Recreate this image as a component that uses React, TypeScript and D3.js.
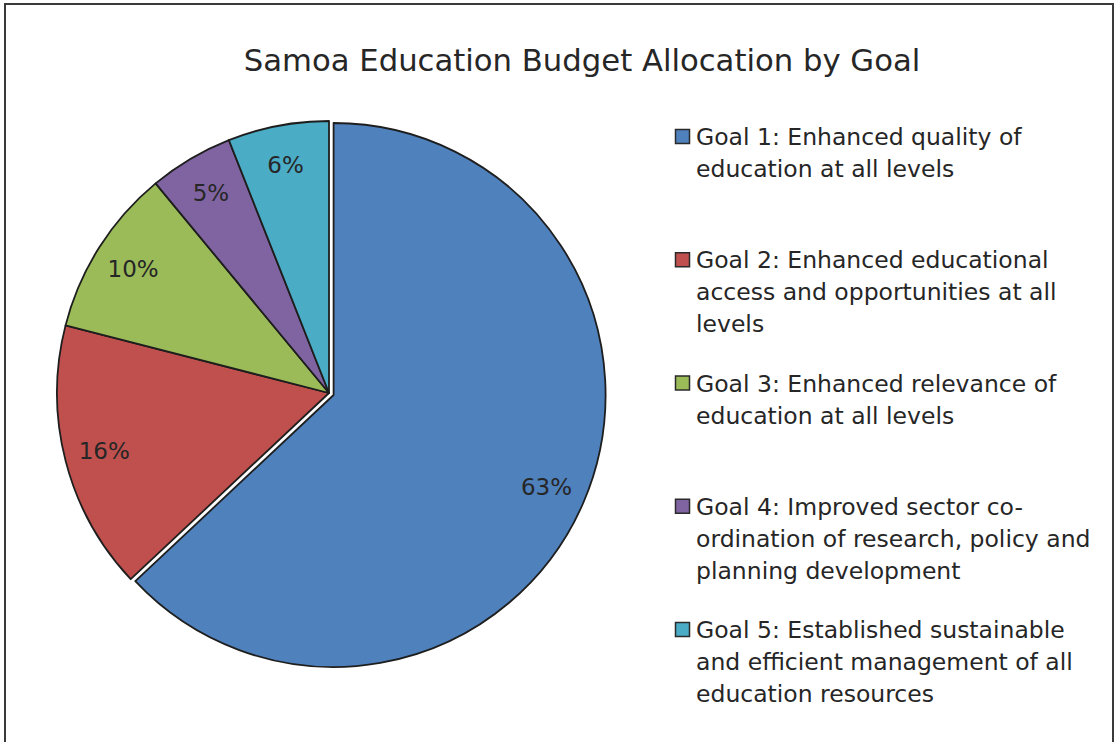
import { useEffect, useRef } from "react";
import * as d3 from "d3";

const goalNames = ["Goal 1", "Goal 2", "Goal 3", "Goal 4", "Goal 5"];
const budgetShares = [63, 16, 10, 5, 6];
const legendLines = [
  ["Goal 1: Enhanced quality of", "education at all levels"],
  ["Goal 2: Enhanced educational", "access and opportunities at all", "levels"],
  ["Goal 3: Enhanced relevance of", "education at all levels"],
  ["Goal 4: Improved sector co-", "ordination of research, policy and", "planning development"],
  ["Goal 5: Established sustainable", "and efficient management of all", "education resources"],
];
const sliceColors = ["#4F81BD", "#C0504D", "#9BBB59", "#8064A2", "#4BACC6"];

const FONT = "'DejaVu Sans', sans-serif";

export default function App() {
  const svgRef = useRef<SVGSVGElement>(null);

  useEffect(() => {
    if (!svgRef.current) return;
    const width = 1115;
    const height = 742;
    const svg = d3.select(svgRef.current);
    svg.selectAll("*").remove();
    svg.attr("width", width).attr("height", height);

    svg.append("rect")
      .attr("width", width)
      .attr("height", height)
      .attr("fill", "#fff");

    // chart frame
    svg.append("rect")
      .attr("x", 5)
      .attr("y", 4)
      .attr("width", 1108)
      .attr("height", 800)
      .attr("fill", "none")
      .attr("stroke", "#3a3a3a")
      .attr("stroke-width", 2);

    svg.append("text")
      .attr("x", 582)
      .attr("y", 71)
      .attr("text-anchor", "middle")
      .style("font-family", FONT)
      .style("font-size", "30.7px")
      .style("fill", "#262626")
      .text("Samoa Education Budget Allocation by Goal");

    const cx = 329;
    const cy = 393;
    const radius = 272;
    const explode = 5;

    const pie = d3.pie<number>().sort(null).value((d) => d);
    const arcs = pie(budgetShares);
    const arc = d3.arc<d3.PieArcDatum<number>>().innerRadius(0).outerRadius(radius);
    const labelArc = d3.arc<d3.PieArcDatum<number>>().innerRadius(232).outerRadius(232);

    const offset = (d: d3.PieArcDatum<number>) => {
      if (d.index !== 0) return [0, 0];
      const mid = (d.startAngle + d.endAngle) / 2;
      return [explode * Math.sin(mid), -explode * Math.cos(mid)];
    };

    const g = svg.append("g").attr("transform", `translate(${cx},${cy})`);

    g.selectAll("path.slice")
      .data(arcs)
      .enter()
      .append("path")
      .attr("class", "slice")
      .attr("d", arc)
      .attr("transform", (d) => `translate(${offset(d)[0]},${offset(d)[1]})`)
      .attr("fill", (d) => sliceColors[d.index])
      .attr("stroke", "#1e1e1e")
      .attr("stroke-width", 1.8)
      .attr("stroke-linejoin", "round");

    g.selectAll("text.pct")
      .data(arcs)
      .enter()
      .append("text")
      .attr("class", "pct")
      .attr("x", (d) => labelArc.centroid(d)[0] + offset(d)[0])
      .attr("y", (d) => labelArc.centroid(d)[1] + offset(d)[1])
      .attr("text-anchor", "middle")
      .attr("dominant-baseline", "central")
      .style("font-family", FONT)
      .style("font-size", "23px")
      .style("fill", "#262626")
      .text((d) => `${d.data}%`);

    // legend
    const legendY = d3.scaleLinear().domain([0, goalNames.length - 1]).range([145, 638]);
    const legend = svg.selectAll("g.legend")
      .data(goalNames)
      .enter()
      .append("g")
      .attr("class", "legend")
      .attr("transform", (_, i) => `translate(675,${legendY(i)})`);

    legend.append("rect")
      .attr("x", 0.5)
      .attr("y", -15.5)
      .attr("width", 14)
      .attr("height", 14)
      .attr("fill", (_, i) => sliceColors[i])
      .attr("stroke", "#2a2a2a")
      .attr("stroke-width", 1.5);

    legend.each(function (_, i) {
      const t = d3.select(this)
        .append("text")
        .style("font-family", FONT)
        .style("font-size", "23.5px")
        .style("fill", "#262626");
      legendLines[i].forEach((line, j) => {
        t.append("tspan").attr("x", 21).attr("y", j * 32).text(line);
      });
    });
  }, []);

  return (
    <svg
      ref={svgRef}
      style={{ position: "absolute", left: 0, top: 0, display: "block" }}
    ></svg>
  );
}
